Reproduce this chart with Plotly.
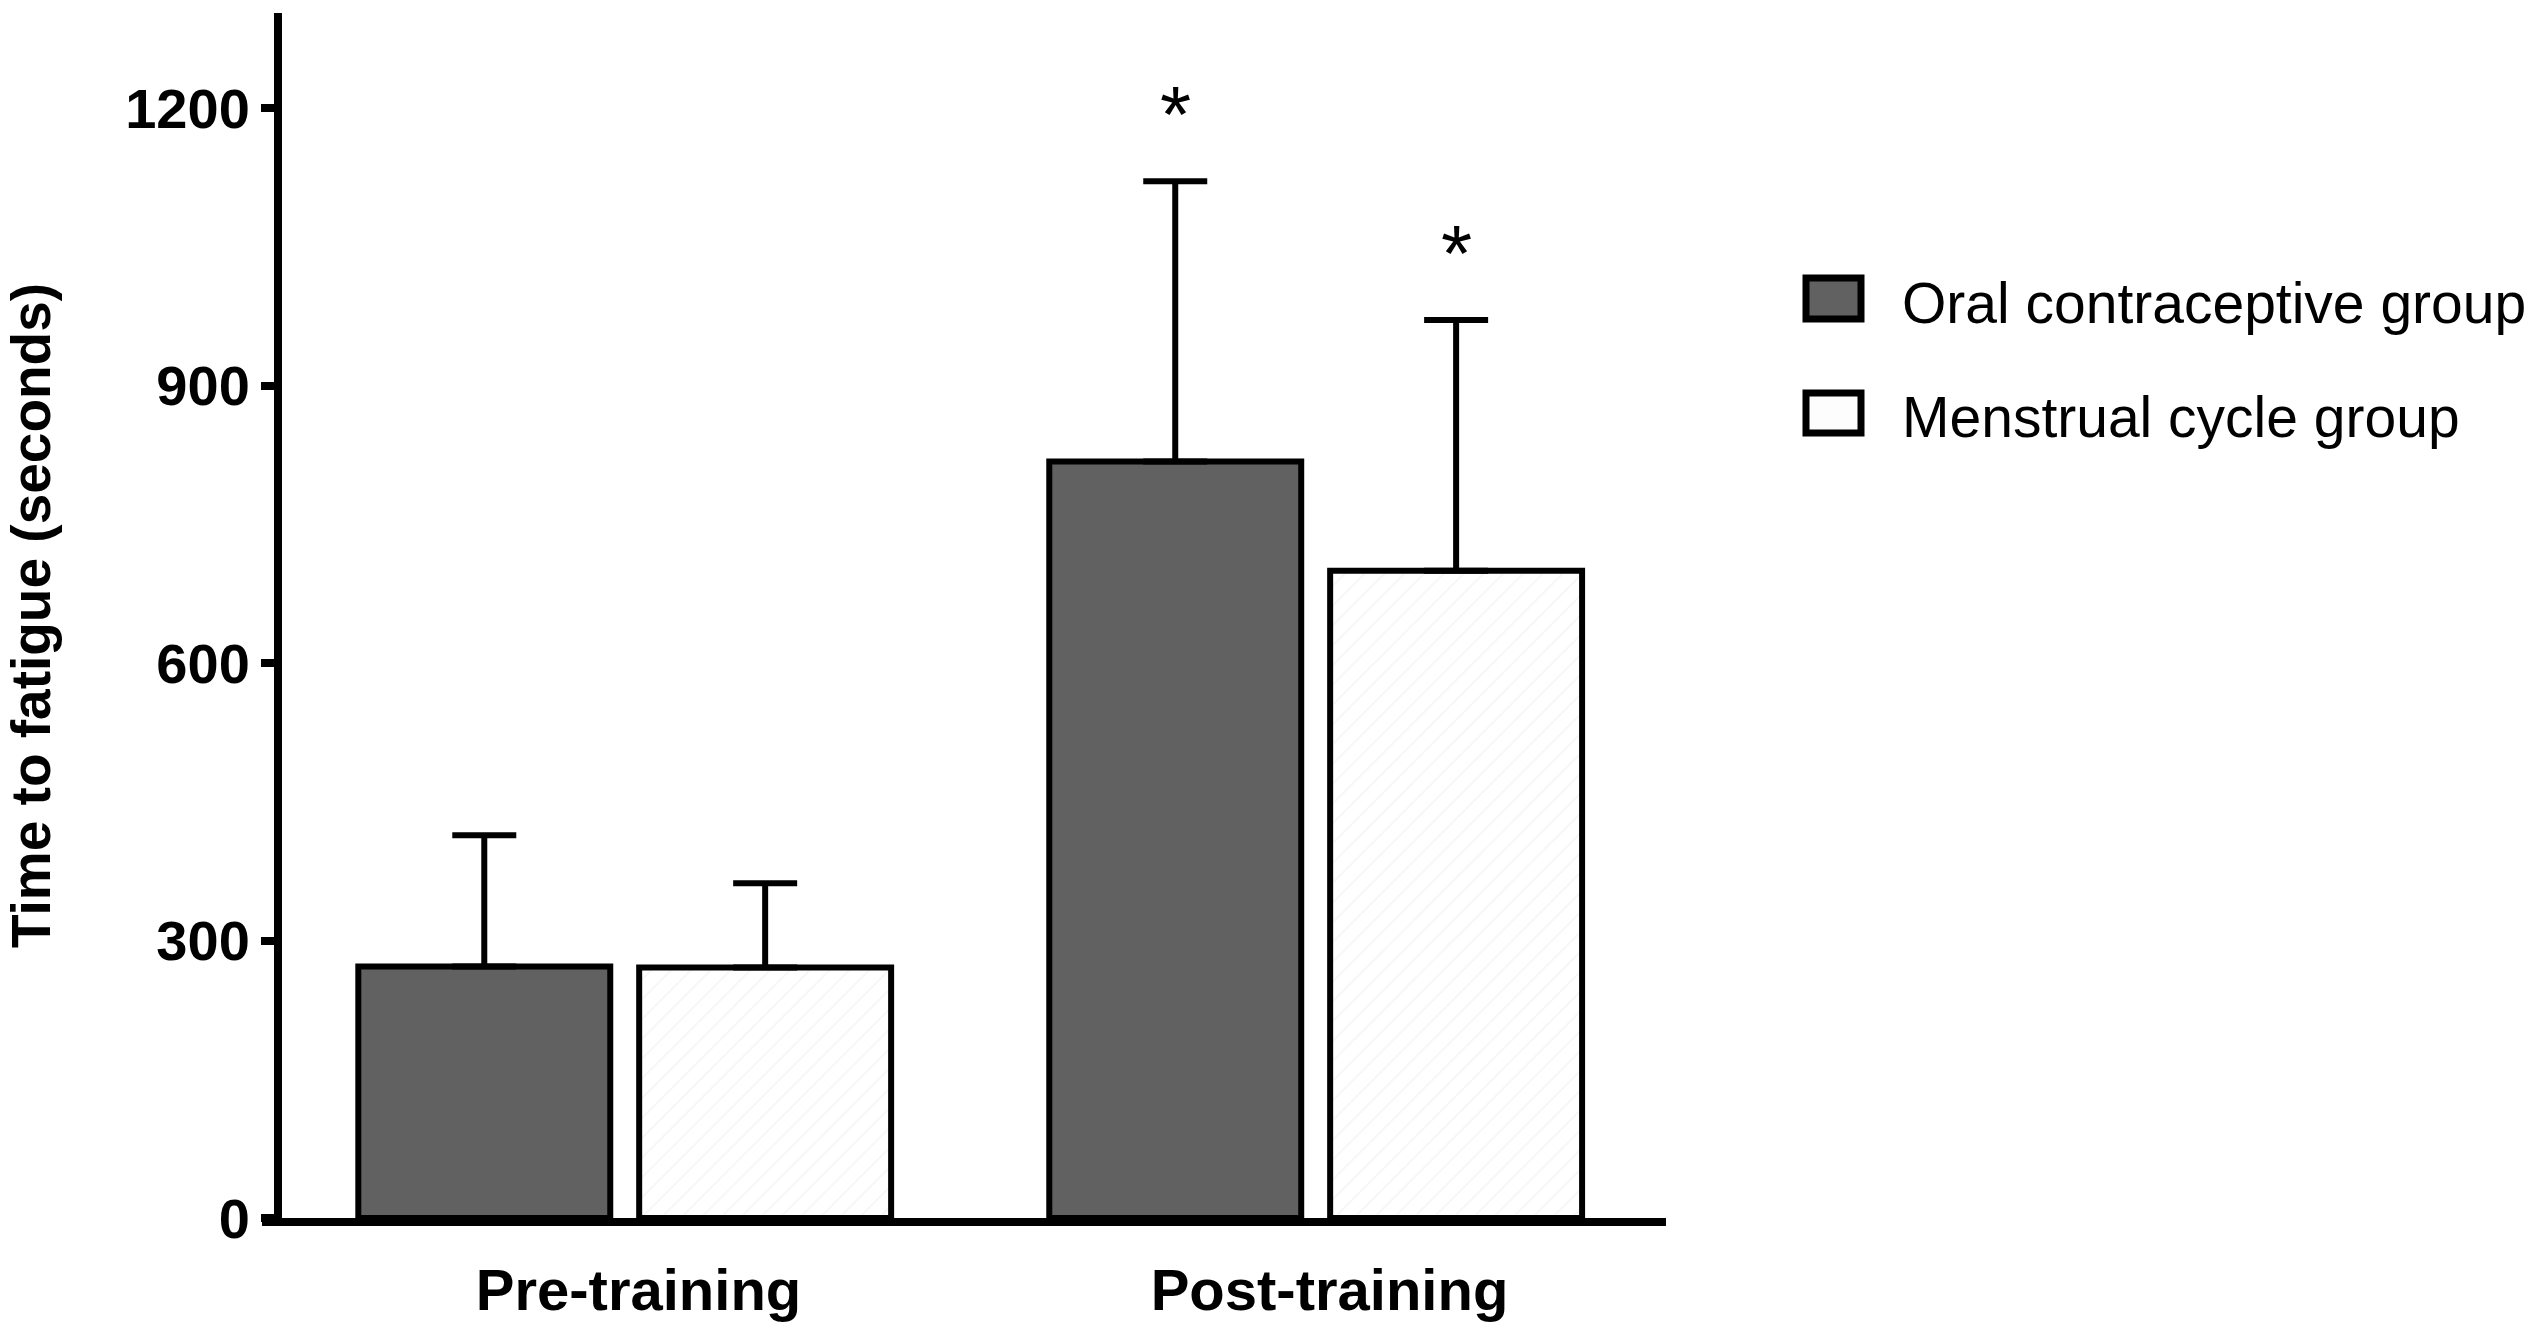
import plotly.graph_objects as go

# ---------------- data ----------------
conditions = ["Pre-training", "Post-training"]
oc_name = "Oral contraceptive group"
mc_name = "Menstrual cycle group"
oc_mean = [272, 818]
oc_sd = [142, 303]
mc_mean = [271, 700]
mc_sd = [91, 271]
oc_star = ["", "*"]
mc_star = ["", "*"]
y_ticks = [0, 300, 600, 900, 1200]

# ---------------- layout constants ----------------
W, H = 2535, 1328
M_L, M_R, M_T, M_B = 282, 869, 13, 110
BARGAP = 0.187
GROUPGAP = 0.103
LABEL_NUDGE = 0.02  # category labels sit slightly right of the group centre
FONT = "Liberation Sans, Arial, Helvetica, sans-serif"
OC_COLOR = "#616161"

x_pos = list(range(len(conditions)))
plot_w = W - M_L - M_R
plot_h = H - M_T - M_B


def px_to_paper_x(px):
    return (px - M_L) / plot_w


def px_to_paper_y(py):
    return (H - M_B - py) / plot_h


fig = go.Figure()

fig.add_trace(go.Bar(
    x=x_pos, y=oc_mean, name=oc_name,
    marker=dict(color=OC_COLOR, line=dict(color="black", width=6)),
    error_y=dict(type="data", array=oc_sd, arrayminus=[0] * len(oc_sd),
                 symmetric=False, color="black", thickness=6, width=32),
    showlegend=False,
))
fig.add_trace(go.Bar(
    x=x_pos, y=mc_mean, name=mc_name,
    marker=dict(color="white", line=dict(color="black", width=6),
                pattern=dict(shape="/", fgcolor="#ececec", bgcolor="white",
                             size=14, solidity=0.12)),
    error_y=dict(type="data", array=mc_sd, arrayminus=[0] * len(mc_sd),
                 symmetric=False, color="black", thickness=6, width=32),
    showlegend=False,
))

# significance stars above the error bars
offset = (1 - BARGAP) / 4
for i in x_pos:
    for star, mean, sd, sign in ((oc_star[i], oc_mean[i], oc_sd[i], -1),
                                 (mc_star[i], mc_mean[i], mc_sd[i], 1)):
        if star:
            fig.add_annotation(x=i + sign * offset, y=mean + sd, text=star,
                               showarrow=False, yanchor="bottom", yshift=20,
                               font=dict(family=FONT, size=80, color="black"))

# hand-made legend with large swatches
legend_items = [(oc_name, OC_COLOR, 278, 319), (mc_name, "#fdfdfd", 393, 433)]
for name, color, top, bottom in legend_items:
    fig.add_shape(type="rect", xref="paper", yref="paper",
                  x0=px_to_paper_x(1806), x1=px_to_paper_x(1861),
                  y0=px_to_paper_y(bottom), y1=px_to_paper_y(top),
                  fillcolor=color, line=dict(color="black", width=7))
    fig.add_annotation(xref="paper", yref="paper",
                       x=px_to_paper_x(1900), y=px_to_paper_y((top + bottom) / 2 + 4),
                       text=name, showarrow=False, xanchor="left", yanchor="middle",
                       font=dict(family=FONT, size=57, color="black"))

# x axis line continues left under the zero tick
fig.add_shape(type="line", xref="paper", yref="paper",
              x0=px_to_paper_x(262), x1=0, y0=-4 / plot_h, y1=-4 / plot_h,
              line=dict(color="black", width=8))

fig.update_xaxes(
    range=[-0.496, 1.507], tickvals=[x + LABEL_NUDGE for x in x_pos], ticktext=conditions,
    showline=True, linewidth=8, linecolor="black", ticks="",
    showgrid=False, zeroline=False, ticklabelstandoff=14,
    tickfont=dict(family=FONT, size=58, color="black", weight="bold"),
)
fig.update_yaxes(
    range=[0, 1303], tickvals=y_ticks,
    showline=True, linewidth=8, linecolor="black",
    ticks="outside", ticklen=13, tickwidth=8, tickcolor="black",
    showgrid=False, zeroline=False,
    tickfont=dict(family=FONT, size=56, color="black", weight="bold"),
    title=dict(text="Time to fatigue (seconds)", standoff=62,
               font=dict(family=FONT, size=55, color="black", weight="bold")),
)

fig.update_layout(
    width=W, height=H,
    margin=dict(l=M_L, r=M_R, t=M_T, b=M_B, autoexpand=False),
    barmode="group", bargap=BARGAP, bargroupgap=GROUPGAP,
    plot_bgcolor="white", paper_bgcolor="white",
    font=dict(family=FONT, color="black"),
)

# drop the default page margin so the figure fills the window exactly
fig.write_html("out.html", config={"displayModeBar": False},
               post_script="document.body.style.margin='0';")
